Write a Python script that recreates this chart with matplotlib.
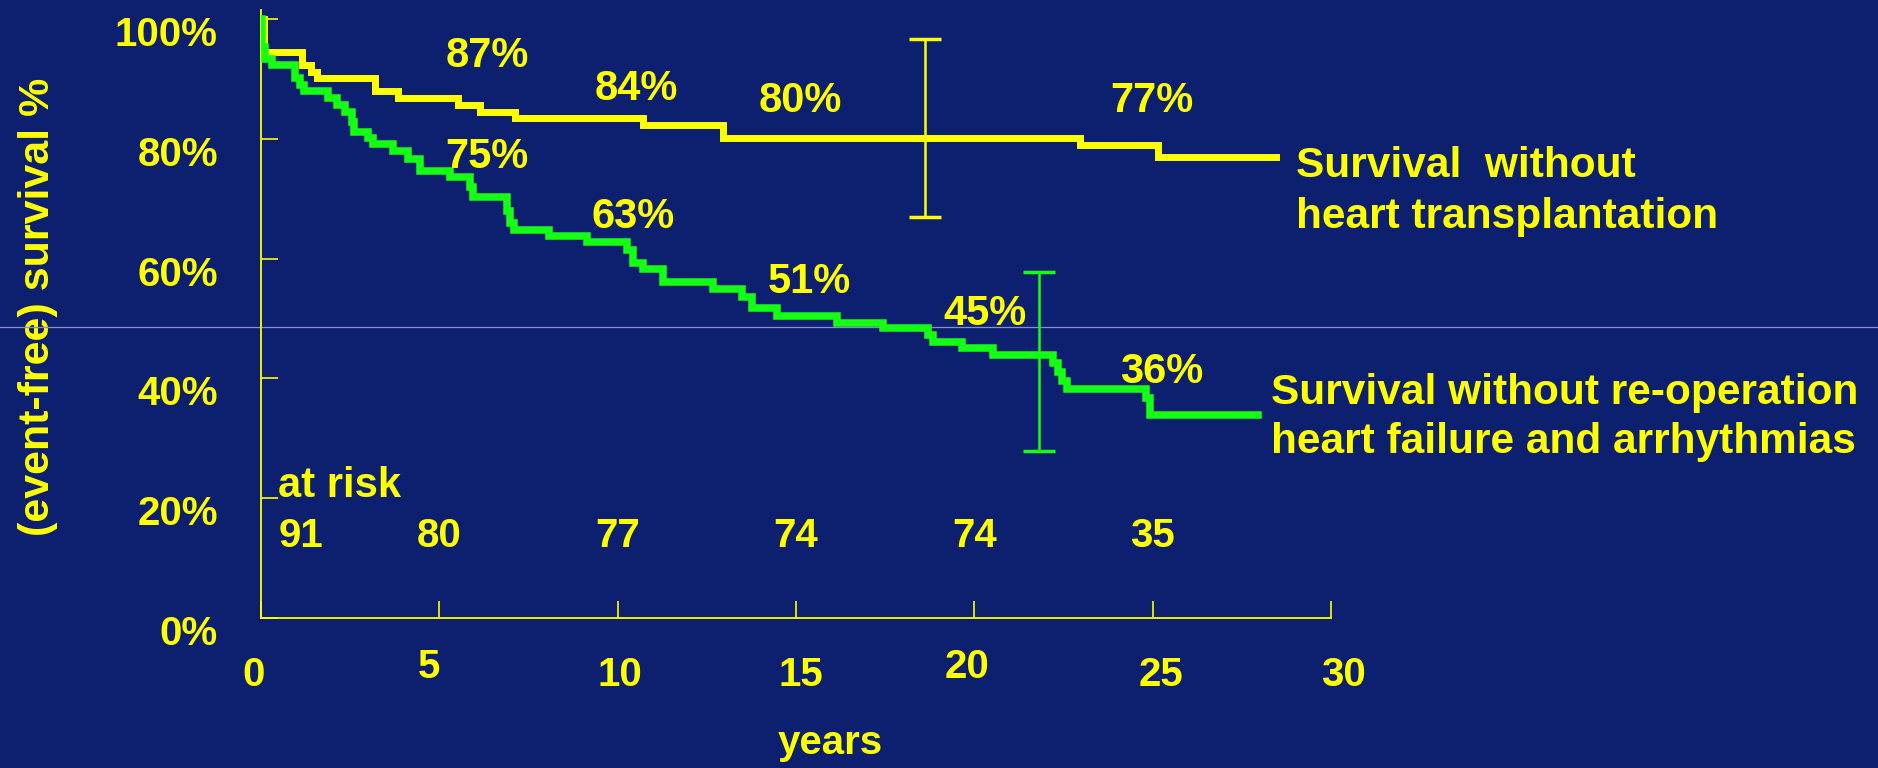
import numpy as np
import matplotlib
matplotlib.use("Agg")
import matplotlib.pyplot as plt
from matplotlib.transforms import ScaledTranslation

plt.rcParams['font.family'] = ['Liberation Sans', 'DejaVu Sans']
plt.rcParams['font.weight'] = 'bold'

# survival without heart transplantation (years, %), step curve
transplant_years = [0.0, 0.07, 1.14, 1.40, 1.56, 3.20, 3.85, 5.53, 6.14, 7.12,
                    10.72, 12.96, 22.95, 25.14, 28.45]
transplant_surv = [100.0, 94.5, 92.3, 91.2, 90.1, 87.9, 86.8, 85.6, 84.5, 83.4,
                   82.3, 80.2, 78.9, 76.9, 76.9]

# survival without re-operation, heart failure and arrhythmias
reop_years = [0.0, 0.03, 0.12, 0.30, 0.95, 1.10, 1.20, 1.89, 2.12, 2.35,
              2.54, 2.62, 3.01, 3.15, 3.71, 4.13, 4.46, 5.30, 5.86, 5.93,
              6.89, 6.97, 7.08, 8.06, 9.13, 10.25, 10.44, 10.72, 11.28, 12.68,
              13.48, 13.76, 14.46, 16.14, 17.45, 18.71, 18.85, 19.64, 20.53, 22.21,
              22.33, 22.45, 22.59, 24.80, 24.92, 27.95]
reop_surv = [100.0, 95.4, 93.3, 92.3, 90.2, 89.0, 87.9, 86.8, 85.6, 84.5,
             82.8, 81.2, 80.1, 79.1, 78.0, 76.7, 74.7, 73.6, 72.0, 70.2,
             68.0, 65.9, 64.8, 63.7, 62.7, 61.4, 59.2, 58.2, 56.1, 54.9,
             53.6, 51.7, 50.4, 49.3, 48.4, 47.2, 46.1, 45.0, 43.9, 42.5,
             41.0, 39.5, 38.2, 36.8, 33.9, 33.9]

# confidence intervals: (year, low %, high %)
transplant_ci = (18.62, 67.0, 96.6)
reop_ci = (21.81, 27.9, 57.7)

# estimates printed on the slide
transplant_marks = [87, 84, 80, 77]
reop_marks = [75, 63, 51, 45, 36]

# numbers at risk
risk_years = [0, 5, 10, 15, 20, 25]
at_risk = [91, 80, 77, 74, 74, 35]

x_ticks = [0, 5, 10, 15, 20, 25, 30]
y_ticks = [0, 20, 40, 60, 80, 100]

# where the printed estimates sit (year, % baseline)
transplant_mark_pos = [(6.33, 92.0), (10.53, 86.5), (15.11, 84.4), (24.98, 84.4)]
reop_mark_pos = [(6.33, 75.2), (10.44, 65.1), (15.37, 54.2), (20.30, 48.9), (25.25, 39.2)]

# the slide's hand placed x tick labels (pixel nudges)
xlabel_nudge = {'0': (-7, 0), '5': (-10, 8), '10': (2, 0), '15': (5, 0),
                '20': (-7, 8), '25': (8, 0), '30': (12, 0)}

bg = '#0d2070'
yellow = '#ffff00'
green = '#14ff14'

fig = plt.figure(figsize=(18.78, 7.68), dpi=100, facecolor=bg)
ax = fig.add_axes([0.139, 0.1953, 0.5698, 0.7917])
ax.patch.set_visible(False)

# stray light rule running across the whole slide
ax.plot([-0.25, 1.52], [0.478, 0.478], transform=ax.transAxes, clip_on=False,
        color='#8c8cd0', lw=0.9, zorder=2)

ax.plot(transplant_years, transplant_surv, drawstyle='steps-post', color=yellow,
        lw=5, solid_joinstyle='miter', zorder=3)
ax.plot(reop_years, reop_surv, drawstyle='steps-post', color=green,
        lw=5.4, solid_joinstyle='miter', zorder=3)

for ci, col in [(transplant_ci, yellow), (reop_ci, green)]:
    x, lo, hi = ci
    mid = (lo + hi) / 2
    ax.errorbar([x], [mid], yerr=[[mid - lo], [hi - mid]], fmt='none', ecolor=col,
                elinewidth=1.8, capsize=11.5, capthick=2.5, zorder=4)

for val, (x, y) in zip(transplant_marks, transplant_mark_pos):
    ax.text(x, y, f"{val}%", color=yellow, fontsize=30, ha='center', va='baseline')
for val, (x, y) in zip(reop_marks, reop_mark_pos):
    ax.text(x, y, f"{val}%", color=yellow, fontsize=30, ha='center', va='baseline')

# legend text next to the curve ends
ax.text(29.02, 73.6, "Survival  without", color=yellow, fontsize=30.5, va='baseline', clip_on=False)
ax.text(29.02, 65.1, "heart transplantation", color=yellow, fontsize=30.5, va='baseline', clip_on=False)
ax.text(28.31, 35.8, "Survival without re-operation", color=yellow, fontsize=30.5, va='baseline', clip_on=False)
ax.text(28.31, 27.6, "heart failure and arrhythmias", color=yellow, fontsize=30.5, va='baseline', clip_on=False)

# at risk table
ax.text(0.48, 20.25, "at risk", color=yellow, fontsize=30, va='baseline')
for i, (t, n) in enumerate(zip(risk_years, at_risk)):
    if i == 0:
        ax.text(0.48, 11.9, str(n), color=yellow, fontsize=29, ha='left', va='baseline')
    else:
        ax.text(t, 11.9, str(n), color=yellow, fontsize=29, ha='center', va='baseline')

ax.set_xlim(0, 30)
ax.set_ylim(0, 101.5)
ax.set_xticks(x_ticks)
ax.set_xticklabels([str(v) for v in x_ticks])
ax.set_yticks(y_ticks)
ax.set_yticklabels([f"{v}%" for v in y_ticks])

for side in ['top', 'right']:
    ax.spines[side].set_visible(False)
for side in ['left', 'bottom']:
    ax.spines[side].set_color(yellow)
    ax.spines[side].set_linewidth(1.3)

ax.tick_params(axis='both', direction='in', length=12, width=1.2, color=yellow,
               labelcolor=yellow, labelsize=29)
ax.tick_params(axis='x', pad=27)
ax.tick_params(axis='y', pad=31)

# labels on the slide sit a bit below their ticks
for lbl in ax.get_yticklabels():
    lbl.set_transform(lbl.get_transform() + ScaledTranslation(0, -0.12, fig.dpi_scale_trans))
for lbl in ax.get_xticklabels():
    dx, dy = xlabel_nudge.get(lbl.get_text(), (0, 0))
    lbl.set_transform(lbl.get_transform() + ScaledTranslation(dx / 100, dy / 100, fig.dpi_scale_trans))

ax.set_ylabel("(event-free) survival %", color=yellow, fontsize=31, fontweight='bold')
ax.yaxis.set_label_coords(-0.190, 0.512)
ax.text(0.532, -0.175, "years", transform=ax.transAxes, color=yellow, fontsize=29,
        ha='center', va='top')

fig.savefig("out.png", dpi=100, facecolor=bg)
